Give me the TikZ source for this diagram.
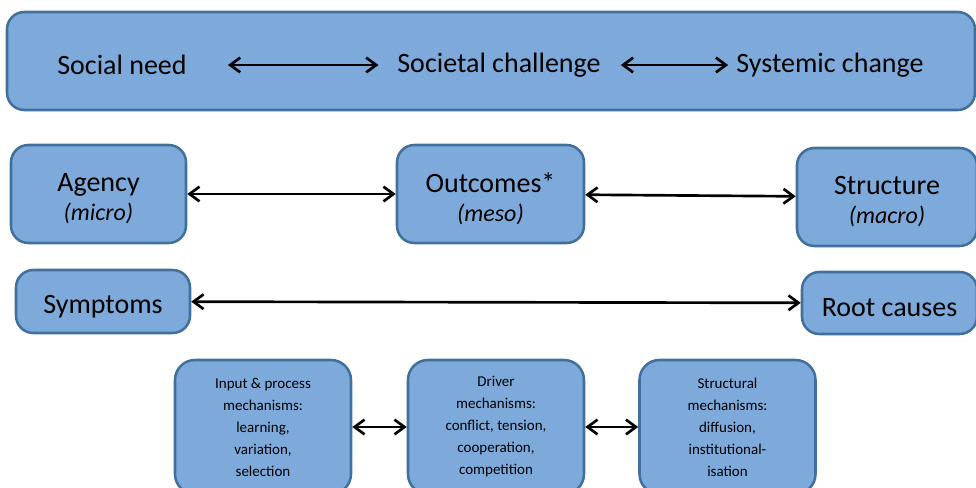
\documentclass[tikz,border=0pt]{standalone}
\usepackage{fontspec}
\setmainfont{Carlito}
\usepackage{tikz}
\usetikzlibrary{arrows.meta,positioning}
\definecolor{boxfill}{HTML}{7DAADB}
\definecolor{boxline}{HTML}{41709C}
\tikzset{
  every node/.style={
    font=\fontsize{21}{25}\selectfont
  },
  panel/.style={
    shape=rectangle,
    rounded corners=13pt,
    draw=boxline,
    line width=1.9pt,
    fill=boxfill
  },
  level/.style n args={2}{
    panel,
    minimum width=#1,
    minimum height=#2
  },
  caption/.style={
    label={[align=center,yshift=-3.5pt]center:#1}
  },
  mechanism/.style={
    panel,
    rounded corners=15pt,
    minimum width=132pt,
    minimum height=100.5pt,
    align=center,
    font=\fontsize{11.25}{16.5}\selectfont
  },
  plain/.style={
    inner sep=0pt
  },
  both ways/.style={
    {Straight Barb[length=7.5pt,width=11pt]}-{Straight Barb[length=7.5pt,width=11pt]},
    line width=2pt
  }
}
\newcommand{\scale}[1]{{\fontsize{18}{22}\selectfont\itshape #1}}

\begin{document}
\begin{tikzpicture}[x=0.75pt,y=-0.75pt]
\useasboundingbox (0,0) rectangle (976,487);
\clip (0,0) rectangle (976,487);

\node [level={726pt}{73.5pt}] (banner) at (491,61) {};
\node [plain] (need) at (122,65) {Social need};
\node [plain] (challenge) at (499,65) {Societal challenge};
\node [plain] (change) at (830,65) {Systemic change};
\draw [both ways, shorten <=30.75pt, shorten >=14pt] (need) -- (challenge);
\draw [both ways, shorten <=15pt, shorten >=6pt] (challenge) -- (change);

\node [level={131.25pt}{73.5pt}, caption={Agency\\[-3.5pt]\scale{(micro)}}] (agency) at (98.5,194) {};
\node [level={140.25pt}{73.5pt}, caption={Outcomes*\\[-3.5pt]\scale{(meso)}}] (outcomes) at (490.5,194) {};
\node [level={135pt}{73.5pt}, caption={Structure\\[-3.5pt]\scale{(macro)}}] (structure) at (887,197) {};
\draw [both ways] (agency) -- (outcomes);
\draw [both ways] (outcomes) -- (structure);

\node [level={130.5pt}{47.25pt}, caption={Symptoms}] (symptoms) at (103,301.5) {};
\node [level={131.25pt}{46.5pt}, caption={Root causes}] (causes) at (889.5,303) {};
\draw [both ways] (symptoms) -- (causes);

\node [mechanism] (input) at (263,427) {Input \& process\\mechanisms:\\learning,\\variation,\\selection};
\node [mechanism] (driver) at (496,427) {Driver\\mechanisms:\\conflict, tension,\\cooperation,\\competition};
\node [mechanism] (structural) at (727.5,427) {Structural\\mechanisms:\\diffusion,\\institutional-\\isation};
\draw [both ways] (input) -- (driver);
\draw [both ways] (driver) -- (structural);

\end{tikzpicture}
\end{document}
